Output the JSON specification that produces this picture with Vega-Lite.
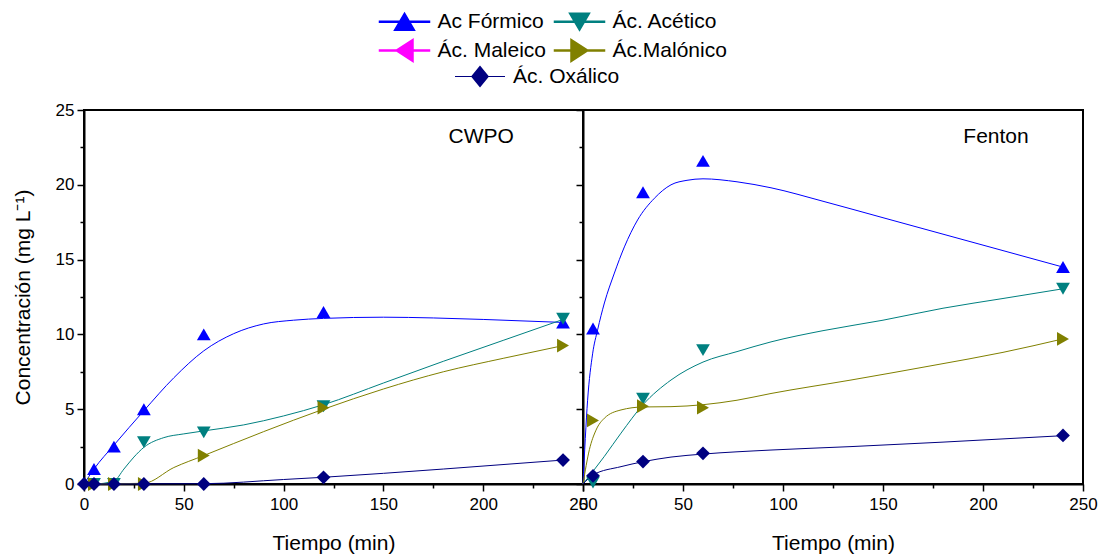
{
  "$schema": "https://vega.github.io/schema/vega-lite/v6.json",
  "autosize": {"type": "pad"},
  "padding": {"left": 11, "top": 10, "right": 0, "bottom": 0},
  "background": "white",
  "bounds": "flush",
  "spacing": 0,
  "config": {
    "font": "Liberation Sans",
    "view": {"stroke": "#000", "strokeWidth": 2},
    "axis": {"grid": false, "domainColor": "#000", "domainWidth": 2, "tickColor": "#000", "tickWidth": 1.5, "tickSize": 7, "labelColor": "#000", "titleColor": "#000", "labelFont": "Liberation Sans", "titleFont": "Liberation Sans", "labelFontSize": 17, "titleFontSize": 21, "titleFontWeight": "normal", "labelFlush": false, "labelOverlap": false},
    "legend": {"labelFont": "Liberation Sans", "labelColor": "#000", "labelFontSize": 21, "padding": 0}
  },
  "datasets": {
    "pts": [
      {"p": "CWPO", "s": "Ac Fórmico", "t": 5, "c": 1.0},
      {"p": "CWPO", "s": "Ac Fórmico", "t": 15, "c": 2.5},
      {"p": "CWPO", "s": "Ac Fórmico", "t": 30, "c": 5.0},
      {"p": "CWPO", "s": "Ac Fórmico", "t": 60, "c": 10.0},
      {"p": "CWPO", "s": "Ac Fórmico", "t": 120, "c": 11.5},
      {"p": "CWPO", "s": "Ac Fórmico", "t": 240, "c": 10.8},
      {"p": "CWPO", "s": "Ác. Acético", "t": 5, "c": 0},
      {"p": "CWPO", "s": "Ác. Acético", "t": 15, "c": 0},
      {"p": "CWPO", "s": "Ác. Acético", "t": 30, "c": 2.8},
      {"p": "CWPO", "s": "Ác. Acético", "t": 60, "c": 3.45},
      {"p": "CWPO", "s": "Ác. Acético", "t": 120, "c": 5.2},
      {"p": "CWPO", "s": "Ác. Acético", "t": 240, "c": 11.05},
      {"p": "CWPO", "s": "Ác.Malónico", "t": 5, "c": 0},
      {"p": "CWPO", "s": "Ác.Malónico", "t": 15, "c": 0},
      {"p": "CWPO", "s": "Ác.Malónico", "t": 30, "c": 0},
      {"p": "CWPO", "s": "Ác.Malónico", "t": 60, "c": 1.9},
      {"p": "CWPO", "s": "Ác.Malónico", "t": 120, "c": 5.1},
      {"p": "CWPO", "s": "Ác.Malónico", "t": 240, "c": 9.25},
      {"p": "CWPO", "s": "Ác. Oxálico", "t": 0, "c": 0},
      {"p": "CWPO", "s": "Ác. Oxálico", "t": 5, "c": 0},
      {"p": "CWPO", "s": "Ác. Oxálico", "t": 15, "c": 0},
      {"p": "CWPO", "s": "Ác. Oxálico", "t": 30, "c": 0},
      {"p": "CWPO", "s": "Ác. Oxálico", "t": 60, "c": 0},
      {"p": "CWPO", "s": "Ác. Oxálico", "t": 120, "c": 0.45},
      {"p": "CWPO", "s": "Ác. Oxálico", "t": 240, "c": 1.6},
      {"p": "Fenton", "s": "Ac Fórmico", "t": 5, "c": 10.4},
      {"p": "Fenton", "s": "Ac Fórmico", "t": 30, "c": 19.5},
      {"p": "Fenton", "s": "Ac Fórmico", "t": 60, "c": 21.6},
      {"p": "Fenton", "s": "Ac Fórmico", "t": 240, "c": 14.5},
      {"p": "Fenton", "s": "Ác. Acético", "t": 5, "c": 0.1},
      {"p": "Fenton", "s": "Ác. Acético", "t": 30, "c": 5.7},
      {"p": "Fenton", "s": "Ác. Acético", "t": 60, "c": 8.95},
      {"p": "Fenton", "s": "Ác. Acético", "t": 240, "c": 13.05},
      {"p": "Fenton", "s": "Ác.Malónico", "t": 5, "c": 4.25},
      {"p": "Fenton", "s": "Ác.Malónico", "t": 30, "c": 5.2},
      {"p": "Fenton", "s": "Ác.Malónico", "t": 60, "c": 5.1},
      {"p": "Fenton", "s": "Ác.Malónico", "t": 240, "c": 9.7},
      {"p": "Fenton", "s": "Ác. Oxálico", "t": 5, "c": 0.55},
      {"p": "Fenton", "s": "Ác. Oxálico", "t": 30, "c": 1.5},
      {"p": "Fenton", "s": "Ác. Oxálico", "t": 60, "c": 2.05},
      {"p": "Fenton", "s": "Ác. Oxálico", "t": 240, "c": 3.25}
    ],
    "fit": [
      {"p": "CWPO", "s": "Ac Fórmico", "t": 0, "c": 0},
      {"p": "CWPO", "s": "Ac Fórmico", "t": 5, "c": 1.0},
      {"p": "CWPO", "s": "Ac Fórmico", "t": 15, "c": 2.6},
      {"p": "CWPO", "s": "Ac Fórmico", "t": 30, "c": 4.9},
      {"p": "CWPO", "s": "Ac Fórmico", "t": 45, "c": 7.1},
      {"p": "CWPO", "s": "Ac Fórmico", "t": 60, "c": 8.9},
      {"p": "CWPO", "s": "Ac Fórmico", "t": 75, "c": 10.05},
      {"p": "CWPO", "s": "Ac Fórmico", "t": 90, "c": 10.7},
      {"p": "CWPO", "s": "Ac Fórmico", "t": 105, "c": 10.95},
      {"p": "CWPO", "s": "Ac Fórmico", "t": 120, "c": 11.07},
      {"p": "CWPO", "s": "Ac Fórmico", "t": 150, "c": 11.15},
      {"p": "CWPO", "s": "Ac Fórmico", "t": 175, "c": 11.1},
      {"p": "CWPO", "s": "Ac Fórmico", "t": 200, "c": 11.0},
      {"p": "CWPO", "s": "Ac Fórmico", "t": 240, "c": 10.8},
      {"p": "CWPO", "s": "Ác. Acético", "t": 0, "c": 0},
      {"p": "CWPO", "s": "Ác. Acético", "t": 5, "c": 0},
      {"p": "CWPO", "s": "Ác. Acético", "t": 15, "c": 0.2},
      {"p": "CWPO", "s": "Ác. Acético", "t": 20, "c": 1.0},
      {"p": "CWPO", "s": "Ác. Acético", "t": 25, "c": 1.8},
      {"p": "CWPO", "s": "Ác. Acético", "t": 30, "c": 2.45},
      {"p": "CWPO", "s": "Ác. Acético", "t": 40, "c": 3.1},
      {"p": "CWPO", "s": "Ác. Acético", "t": 50, "c": 3.35},
      {"p": "CWPO", "s": "Ác. Acético", "t": 60, "c": 3.55},
      {"p": "CWPO", "s": "Ác. Acético", "t": 80, "c": 3.95},
      {"p": "CWPO", "s": "Ác. Acético", "t": 100, "c": 4.55},
      {"p": "CWPO", "s": "Ác. Acético", "t": 120, "c": 5.3},
      {"p": "CWPO", "s": "Ác. Acético", "t": 150, "c": 6.75},
      {"p": "CWPO", "s": "Ác. Acético", "t": 180, "c": 8.2},
      {"p": "CWPO", "s": "Ác. Acético", "t": 210, "c": 9.6},
      {"p": "CWPO", "s": "Ác. Acético", "t": 240, "c": 11.0},
      {"p": "CWPO", "s": "Ác.Malónico", "t": 0, "c": 0},
      {"p": "CWPO", "s": "Ác.Malónico", "t": 30, "c": 0.05},
      {"p": "CWPO", "s": "Ác.Malónico", "t": 45, "c": 1.1},
      {"p": "CWPO", "s": "Ác.Malónico", "t": 60, "c": 1.9},
      {"p": "CWPO", "s": "Ác.Malónico", "t": 90, "c": 3.5},
      {"p": "CWPO", "s": "Ác.Malónico", "t": 120, "c": 5.0},
      {"p": "CWPO", "s": "Ác.Malónico", "t": 150, "c": 6.35},
      {"p": "CWPO", "s": "Ác.Malónico", "t": 180, "c": 7.5},
      {"p": "CWPO", "s": "Ác.Malónico", "t": 210, "c": 8.4},
      {"p": "CWPO", "s": "Ác.Malónico", "t": 240, "c": 9.25},
      {"p": "CWPO", "s": "Ác. Oxálico", "t": 0, "c": 0},
      {"p": "CWPO", "s": "Ác. Oxálico", "t": 60, "c": 0.02},
      {"p": "CWPO", "s": "Ác. Oxálico", "t": 100, "c": 0.3},
      {"p": "CWPO", "s": "Ác. Oxálico", "t": 120, "c": 0.45},
      {"p": "CWPO", "s": "Ác. Oxálico", "t": 180, "c": 1.0},
      {"p": "CWPO", "s": "Ác. Oxálico", "t": 240, "c": 1.6},
      {"p": "Fenton", "s": "Ac Fórmico", "t": 0, "c": 0},
      {"p": "Fenton", "s": "Ac Fórmico", "t": 2.3, "c": 5.6},
      {"p": "Fenton", "s": "Ac Fórmico", "t": 4.8, "c": 8.7},
      {"p": "Fenton", "s": "Ac Fórmico", "t": 7.3, "c": 10.3},
      {"p": "Fenton", "s": "Ac Fórmico", "t": 10.7, "c": 12.1},
      {"p": "Fenton", "s": "Ac Fórmico", "t": 15.7, "c": 14.1},
      {"p": "Fenton", "s": "Ac Fórmico", "t": 20.7, "c": 15.85},
      {"p": "Fenton", "s": "Ac Fórmico", "t": 27.3, "c": 17.65},
      {"p": "Fenton", "s": "Ac Fórmico", "t": 35.7, "c": 19.1},
      {"p": "Fenton", "s": "Ac Fórmico", "t": 44, "c": 20.0},
      {"p": "Fenton", "s": "Ac Fórmico", "t": 52, "c": 20.3},
      {"p": "Fenton", "s": "Ac Fórmico", "t": 60, "c": 20.4},
      {"p": "Fenton", "s": "Ac Fórmico", "t": 77, "c": 20.2},
      {"p": "Fenton", "s": "Ac Fórmico", "t": 94, "c": 19.8},
      {"p": "Fenton", "s": "Ac Fórmico", "t": 120, "c": 18.9},
      {"p": "Fenton", "s": "Ac Fórmico", "t": 150, "c": 17.8},
      {"p": "Fenton", "s": "Ac Fórmico", "t": 180, "c": 16.7},
      {"p": "Fenton", "s": "Ac Fórmico", "t": 210, "c": 15.6},
      {"p": "Fenton", "s": "Ac Fórmico", "t": 240, "c": 14.5},
      {"p": "Fenton", "s": "Ác. Acético", "t": 0, "c": 0},
      {"p": "Fenton", "s": "Ác. Acético", "t": 10.7, "c": 1.85},
      {"p": "Fenton", "s": "Ác. Acético", "t": 19, "c": 3.4},
      {"p": "Fenton", "s": "Ác. Acético", "t": 30, "c": 5.3},
      {"p": "Fenton", "s": "Ác. Acético", "t": 44, "c": 6.95},
      {"p": "Fenton", "s": "Ác. Acético", "t": 60, "c": 8.15},
      {"p": "Fenton", "s": "Ác. Acético", "t": 77, "c": 8.85},
      {"p": "Fenton", "s": "Ác. Acético", "t": 94, "c": 9.5},
      {"p": "Fenton", "s": "Ác. Acético", "t": 120, "c": 10.25},
      {"p": "Fenton", "s": "Ác. Acético", "t": 150, "c": 10.95},
      {"p": "Fenton", "s": "Ác. Acético", "t": 180, "c": 11.75},
      {"p": "Fenton", "s": "Ác. Acético", "t": 210, "c": 12.4},
      {"p": "Fenton", "s": "Ác. Acético", "t": 240, "c": 13.05},
      {"p": "Fenton", "s": "Ác.Malónico", "t": 0, "c": 0},
      {"p": "Fenton", "s": "Ác.Malónico", "t": 3.2, "c": 2.3},
      {"p": "Fenton", "s": "Ác.Malónico", "t": 6.5, "c": 3.6},
      {"p": "Fenton", "s": "Ác.Malónico", "t": 10.7, "c": 4.4},
      {"p": "Fenton", "s": "Ác.Malónico", "t": 19, "c": 4.95},
      {"p": "Fenton", "s": "Ác.Malónico", "t": 30, "c": 5.15},
      {"p": "Fenton", "s": "Ác.Malónico", "t": 44, "c": 5.17},
      {"p": "Fenton", "s": "Ác.Malónico", "t": 60, "c": 5.3},
      {"p": "Fenton", "s": "Ác.Malónico", "t": 77, "c": 5.6},
      {"p": "Fenton", "s": "Ác.Malónico", "t": 94, "c": 6.05},
      {"p": "Fenton", "s": "Ác.Malónico", "t": 134, "c": 6.95},
      {"p": "Fenton", "s": "Ác.Malónico", "t": 176, "c": 7.95},
      {"p": "Fenton", "s": "Ác.Malónico", "t": 210, "c": 8.8},
      {"p": "Fenton", "s": "Ác.Malónico", "t": 240, "c": 9.7},
      {"p": "Fenton", "s": "Ác. Oxálico", "t": 0, "c": 0},
      {"p": "Fenton", "s": "Ác. Oxálico", "t": 5, "c": 0.6},
      {"p": "Fenton", "s": "Ác. Oxálico", "t": 19, "c": 1.16},
      {"p": "Fenton", "s": "Ác. Oxálico", "t": 30, "c": 1.49},
      {"p": "Fenton", "s": "Ác. Oxálico", "t": 44, "c": 1.8},
      {"p": "Fenton", "s": "Ác. Oxálico", "t": 60, "c": 2.0},
      {"p": "Fenton", "s": "Ác. Oxálico", "t": 94, "c": 2.27},
      {"p": "Fenton", "s": "Ác. Oxálico", "t": 134, "c": 2.5},
      {"p": "Fenton", "s": "Ác. Oxálico", "t": 180, "c": 2.8},
      {"p": "Fenton", "s": "Ác. Oxálico", "t": 240, "c": 3.23}
    ],
    "labels": [
      {"p": "CWPO", "label": "CWPO"},
      {"p": "Fenton", "label": "Fenton"}
    ]
  },
  "hconcat": [
    {
      "width": 499,
      "height": 374,
      "resolve": {"axis": {"x": "independent", "y": "independent"}},
      "layer": [
        {
          "data": {"name": "fit"},
          "transform": [{"filter": "datum.p === 'CWPO' && datum.s !== 'Ác. Oxálico'"}],
          "mark": {"type": "line", "interpolate": "monotone", "strokeWidth": 1},
          "encoding": {
            "x": {"field": "t", "type": "quantitative", "scale": {"domain": [0, 250], "nice": false, "zero": false}, "axis": {"orient": "bottom", "values": [0, 50, 100, 150, 200, 250], "title": "Tiempo (min)", "labelPadding": 5, "titlePadding": 20}},
            "y": {"field": "c", "type": "quantitative", "scale": {"domain": [0, 25], "nice": false}, "axis": {"orient": "left", "values": [0, 5, 10, 15, 20, 25], "title": "Concentración (mg L⁻¹)", "labelPadding": 3, "titlePadding": 22}},
            "color": {"field": "s", "type": "nominal", "scale": {"domain": ["Ac Fórmico", "Ác. Maleico", "Ác. Acético", "Ác.Malónico"], "range": ["#0000FF", "#FF00FF", "#008080", "#808000"]},
              "legend": {"title": null, "orient": "none", "legendX": 309.5, "legendY": -99.5, "columns": 2, "columnPadding": 5, "rowPadding": 3, "labelOffset": 22, "symbolSize": 400, "labelFontSize": 21,
                "encode": {"symbols": {"update": {"shape": {"signal": "datum.value === 'Ac Fórmico' ? 'M-2.5,-0.06H2.5V0.06H-2.5ZM0,-0.85L1,0.85L-1,0.85Z' : datum.value === 'Ác. Acético' ? 'M-2.5,-0.06H2.5V0.06H-2.5ZM0,0.85L1,-0.85L-1,-0.85Z' : datum.value === 'Ác. Maleico' ? 'M-2.5,-0.06H2.5V0.06H-2.5ZM-0.85,0L0.85,-1.1L0.85,1.1Z' : 'M-2.5,-0.06H2.5V0.06H-2.5ZM0.85,0L-0.85,-1.1L-0.85,1.1Z'"}, "fill": {"scale": "color", "field": "value"}}}}}}
          }
        },
        {
          "data": {"name": "fit"},
          "transform": [{"filter": "datum.p === 'CWPO' && datum.s === 'Ác. Oxálico'"}],
          "mark": {"type": "line", "interpolate": "monotone", "strokeWidth": 1, "color": "#000080"},
          "encoding": {
            "x": {"field": "t", "type": "quantitative", "axis": {"orient": "bottom", "values": [25, 75, 125, 175, 225], "labels": false, "domain": false, "tickSize": 4, "title": null}},
            "y": {"field": "c", "type": "quantitative", "axis": {"orient": "left", "values": [2.5, 7.5, 12.5, 17.5, 22.5], "labels": false, "domain": false, "tickSize": 4, "title": null}}
          }
        },
        {
          "data": {"name": "pts"},
          "transform": [{"filter": "datum.p === 'CWPO' && datum.s === 'Ac Fórmico'"}],
          "mark": {"type": "point", "filled": true, "size": 190, "opacity": 1, "shape": "triangle-up", "color": "#0000FF"},
          "encoding": {
            "x": {"field": "t", "type": "quantitative", "axis": null},
            "y": {"field": "c", "type": "quantitative", "axis": null}
          }
        },
        {
          "data": {"name": "pts"},
          "transform": [{"filter": "datum.p === 'CWPO' && datum.s === 'Ác. Acético'"}],
          "mark": {"type": "point", "filled": true, "size": 190, "opacity": 1, "shape": "triangle-down", "color": "#008080"},
          "encoding": {
            "x": {"field": "t", "type": "quantitative", "axis": null},
            "y": {"field": "c", "type": "quantitative", "axis": null}
          }
        },
        {
          "data": {"name": "pts"},
          "transform": [{"filter": "datum.p === 'CWPO' && datum.s === 'Ác.Malónico'"}],
          "mark": {"type": "point", "filled": true, "size": 190, "opacity": 1, "shape": "triangle-right", "color": "#808000"},
          "encoding": {
            "x": {"field": "t", "type": "quantitative", "axis": null},
            "y": {"field": "c", "type": "quantitative", "axis": null}
          }
        },
        {
          "data": {"name": "pts"},
          "transform": [{"filter": "datum.p === 'CWPO' && datum.s === 'Ác. Oxálico'"}],
          "mark": {"type": "point", "filled": true, "size": 190, "opacity": 1, "shape": "diamond"},
          "encoding": {
            "x": {"field": "t", "type": "quantitative", "axis": null},
            "y": {"field": "c", "type": "quantitative", "axis": null},
            "fill": {"field": "s", "type": "nominal", "scale": {"domain": ["Ác. Oxálico"], "range": ["#000080"]},
              "legend": {"title": null, "orient": "none", "legendX": 385, "legendY": -44.5, "symbolSize": 400, "labelFontSize": 21, "labelOffset": 22, "symbolType": "M-2.5,-0.06H2.5V0.06H-2.5ZM0,-1.1L0.9,0L0,1.1L-0.9,0Z"}}
          }
        },
        {
          "data": {"name": "labels"},
          "transform": [{"filter": "datum.p === 'CWPO'"}],
          "mark": {"type": "text", "font": "Liberation Sans", "fontSize": 21, "color": "#000", "align": "center", "baseline": "middle"},
          "encoding": {
            "text": {"field": "label"},
            "x": {"datum": 199, "type": "quantitative", "axis": null},
            "y": {"datum": 23.2, "type": "quantitative", "axis": null}
          }
        }
      ]
    },
    {
      "width": 500,
      "height": 374,
      "resolve": {"axis": {"x": "independent", "y": "independent"}},
      "layer": [
        {
          "data": {"name": "fit"},
          "transform": [{"filter": "datum.p === 'Fenton' && datum.s !== 'Ác. Oxálico'"}],
          "mark": {"type": "line", "interpolate": "monotone", "strokeWidth": 1},
          "encoding": {
            "x": {"field": "t", "type": "quantitative", "scale": {"domain": [0, 250], "nice": false, "zero": false}, "axis": {"orient": "bottom", "values": [0, 50, 100, 150, 200, 250], "title": "Tiempo (min)", "labelPadding": 5, "titlePadding": 20}},
            "y": {"field": "c", "type": "quantitative", "scale": {"domain": [0, 25], "nice": false}, "axis": {"orient": "left", "values": [0, 5, 10, 15, 20, 25], "labels": false, "title": null}},
            "color": {"field": "s", "type": "nominal", "scale": {"domain": ["Ac Fórmico", "Ác. Maleico", "Ác. Acético", "Ác.Malónico"], "range": ["#0000FF", "#FF00FF", "#008080", "#808000"]},
              "legend": {"title": null, "orient": "none", "legendX": 309.5, "legendY": -99.5, "columns": 2, "columnPadding": 5, "rowPadding": 3, "labelOffset": 22, "symbolSize": 400, "labelFontSize": 21,
                "encode": {"symbols": {"update": {"shape": {"signal": "datum.value === 'Ac Fórmico' ? 'M-2.5,-0.06H2.5V0.06H-2.5ZM0,-0.85L1,0.85L-1,0.85Z' : datum.value === 'Ác. Acético' ? 'M-2.5,-0.06H2.5V0.06H-2.5ZM0,0.85L1,-0.85L-1,-0.85Z' : datum.value === 'Ác. Maleico' ? 'M-2.5,-0.06H2.5V0.06H-2.5ZM-0.85,0L0.85,-1.1L0.85,1.1Z' : 'M-2.5,-0.06H2.5V0.06H-2.5ZM0.85,0L-0.85,-1.1L-0.85,1.1Z'"}, "fill": {"scale": "color", "field": "value"}}}}}}
          }
        },
        {
          "data": {"name": "fit"},
          "transform": [{"filter": "datum.p === 'Fenton' && datum.s === 'Ác. Oxálico'"}],
          "mark": {"type": "line", "interpolate": "monotone", "strokeWidth": 1, "color": "#000080"},
          "encoding": {
            "x": {"field": "t", "type": "quantitative", "axis": {"orient": "bottom", "values": [25, 75, 125, 175, 225], "labels": false, "domain": false, "tickSize": 4, "title": null}},
            "y": {"field": "c", "type": "quantitative", "axis": {"orient": "left", "values": [2.5, 7.5, 12.5, 17.5, 22.5], "labels": false, "domain": false, "tickSize": 4, "title": null}}
          }
        },
        {
          "data": {"name": "pts"},
          "transform": [{"filter": "datum.p === 'Fenton' && datum.s === 'Ac Fórmico'"}],
          "mark": {"type": "point", "filled": true, "size": 190, "opacity": 1, "shape": "triangle-up", "color": "#0000FF"},
          "encoding": {
            "x": {"field": "t", "type": "quantitative", "axis": null},
            "y": {"field": "c", "type": "quantitative", "axis": null}
          }
        },
        {
          "data": {"name": "pts"},
          "transform": [{"filter": "datum.p === 'Fenton' && datum.s === 'Ác. Acético'"}],
          "mark": {"type": "point", "filled": true, "size": 190, "opacity": 1, "shape": "triangle-down", "color": "#008080"},
          "encoding": {
            "x": {"field": "t", "type": "quantitative", "axis": null},
            "y": {"field": "c", "type": "quantitative", "axis": null}
          }
        },
        {
          "data": {"name": "pts"},
          "transform": [{"filter": "datum.p === 'Fenton' && datum.s === 'Ác.Malónico'"}],
          "mark": {"type": "point", "filled": true, "size": 190, "opacity": 1, "shape": "triangle-right", "color": "#808000"},
          "encoding": {
            "x": {"field": "t", "type": "quantitative", "axis": null},
            "y": {"field": "c", "type": "quantitative", "axis": null}
          }
        },
        {
          "data": {"name": "pts"},
          "transform": [{"filter": "datum.p === 'Fenton' && datum.s === 'Ác. Oxálico'"}],
          "mark": {"type": "point", "filled": true, "size": 190, "opacity": 1, "shape": "diamond"},
          "encoding": {
            "x": {"field": "t", "type": "quantitative", "axis": null},
            "y": {"field": "c", "type": "quantitative", "axis": null},
            "fill": {"field": "s", "type": "nominal", "scale": {"domain": ["Ác. Oxálico"], "range": ["#000080"]},
              "legend": {"title": null, "orient": "none", "legendX": 385, "legendY": -44.5, "symbolSize": 400, "labelFontSize": 21, "labelOffset": 22, "symbolType": "M-2.5,-0.06H2.5V0.06H-2.5ZM0,-1.1L0.9,0L0,1.1L-0.9,0Z"}}
          }
        },
        {
          "data": {"name": "labels"},
          "transform": [{"filter": "datum.p === 'Fenton'"}],
          "mark": {"type": "text", "font": "Liberation Sans", "fontSize": 21, "color": "#000", "align": "center", "baseline": "middle"},
          "encoding": {
            "text": {"field": "label"},
            "x": {"datum": 206.5, "type": "quantitative", "axis": null},
            "y": {"datum": 23.2, "type": "quantitative", "axis": null}
          }
        }
      ]
    }
  ]
}
